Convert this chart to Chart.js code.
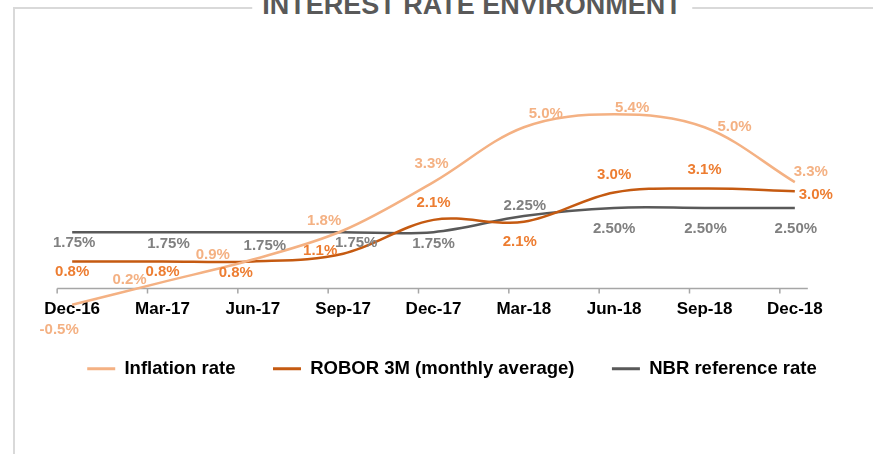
<!DOCTYPE html>
<html>
<head>
<meta charset="utf-8">
<script src="https://cdn.jsdelivr.net/npm/chart.js@4.4.1/dist/chart.umd.min.js"></script>
<style>
  html, body { margin: 0; padding: 0; background: #fff; overflow: hidden; }
  #wrap { position: relative; width: 873px; height: 454px; overflow: hidden; }
  #frame {
    position: absolute; left: 13px; top: 7px; width: 900px; height: 500px;
    border-left: 2px solid #d9d9d9; border-top: 2px solid #d9d9d9;
  }
  #title {
    position: absolute; left: 472px; top: -8px; transform: translateX(-50%);
    padding: 0 10px; background: #fff; white-space: nowrap;
    font: bold 27px/27px "Liberation Sans", Arial, sans-serif;
    color: #595959;
  }
  #chart { position: absolute; left: 0; top: 0; }
</style>
</head>
<body>
<div id="wrap">
  <div id="frame"></div>
  <div id="title">INTEREST RATE ENVIRONMENT</div>
  <canvas id="chart" width="877" height="454"></canvas>
</div>
<script>
// data >>
const months = ['Dec-16', 'Mar-17', 'Jun-17', 'Sep-17', 'Dec-17', 'Mar-18', 'Jun-18', 'Sep-18', 'Dec-18'];
const inflationRate = [-0.5, 0.2, 0.9, 1.8, 3.3, 5.0, 5.4, 5.0, 3.3];
const robor3m = [0.84, 0.84, 0.84, 1.08, 2.13, 2.07, 2.98, 3.1, 3.02];
const nbrRate = [1.75, 1.75, 1.75, 1.75, 1.75, 2.25, 2.5, 2.5, 2.5];

const FONT = '"Liberation Sans", Arial, sans-serif';

// where each value label sits, relative to its point (dx, dy)
const labelOffsets = [
  [[-13, 25], [-33, -2], [-40, -5], [-19, -10], [-2, -18], [22, -13], [18, -7], [30, 0], [16, -10]],
  [[0, 10], [0, 10], [-17, 11], [-23, -3], [0, -17], [-4, 20], [0, -18], [0, -19], [21, 4]],
  [[2, 11], [6, 12], [12, 14], [13, 11], [0, 12], [1, -10], [0, 21], [1, 21], [1, 21]]
];

// axis line with tick marks (Excel style, ticks a bit left of the points)
const axisLine = {
  id: 'axisLine',
  beforeDatasetsDraw(chart) {
    const {ctx, scales: {x, y}} = chart;
    const y0 = y.getPixelForValue(0);
    ctx.save();
    ctx.strokeStyle = '#a6a6a6';
    ctx.lineWidth = 1.5;
    ctx.beginPath();
    ctx.moveTo(x.getPixelForValue(0) - 15, y0);
    ctx.lineTo(x.getPixelForValue(months.length - 1) + 13, y0);
    months.forEach((m, i) => {
      const px = x.getPixelForValue(i) - 15;
      ctx.moveTo(px, y0);
      ctx.lineTo(px, y0 + 5);
    });
    ctx.stroke();
    ctx.restore();
  }
};

// value labels
const valueLabels = {
  id: 'valueLabels',
  afterDatasetsDraw(chart) {
    const ctx = chart.ctx;
    ctx.save();
    ctx.font = 'bold 15px ' + FONT;
    ctx.textAlign = 'center';
    ctx.textBaseline = 'middle';
    chart.data.datasets.forEach((ds, d) => {
      const meta = chart.getDatasetMeta(d);
      ctx.fillStyle = ds.labelColor;
      meta.data.forEach((pt, i) => {
        const off = labelOffsets[d][i];
        ctx.fillText(ds.data[i].toFixed(ds.decimals) + '%', pt.x + off[0], pt.y + off[1]);
      });
    });
    ctx.restore();
  }
};

new Chart('chart', {
  type: 'line',
  data: {
    labels: months,
    datasets: [{
      label: 'Inflation rate',
      data: inflationRate,
      borderColor: '#f4b183',
      backgroundColor: '#f4b183',
      labelColor: '#f4b183',
      decimals: 1
    }, {
      label: 'ROBOR 3M (monthly average)',
      data: robor3m,
      borderColor: '#c55a11',
      backgroundColor: '#c55a11',
      labelColor: '#ed7d31',
      decimals: 1
    }, {
      label: 'NBR reference rate',
      data: nbrRate,
      borderColor: '#595959',
      backgroundColor: '#595959',
      labelColor: '#808080',
      decimals: 2
    }]
  },
  options: {
    responsive: false,
    animation: false,
    devicePixelRatio: 1,
    layout: { padding: { left: 27, right: 0, top: 95, bottom: 66 } },
    elements: {
      line: { borderWidth: 2.5, tension: 0.35, fill: false },
      point: { radius: 0, hoverRadius: 0 }
    },
    datasets: { line: { clip: false } },
    scales: {
      x: {
        offset: true,
        grid: { display: false },
        border: { display: false },
        ticks: {
          color: '#000', padding: 2.5, maxRotation: 0, autoSkip: false,
          font: { family: FONT, size: 17, weight: 'bold' }
        }
      },
      y: { display: false, min: 0, max: 6 },
      yRight: {
        position: 'right', min: 0, max: 1,
        grid: { display: false }, border: { display: false },
        ticks: { display: false },
        afterFit(s) { s.width = 37; }
      }
    },
    plugins: {
      title: { display: false },
      tooltip: { enabled: false },
      legend: {
        position: 'bottom',
        labels: {
          boxWidth: 28, boxHeight: 3, padding: 37.5, color: '#000',
          font: { family: FONT, size: 18.5, weight: 'bold' },
          generateLabels: chart => chart.data.datasets.map((ds, i) => ({
            text: ds.label, fillStyle: ds.borderColor, strokeStyle: ds.borderColor,
            lineWidth: 0, datasetIndex: i, hidden: false, fontColor: '#000'
          }))
        }
      }
    }
  },
  plugins: [axisLine, valueLabels]
});
</script>
</body>
</html>
